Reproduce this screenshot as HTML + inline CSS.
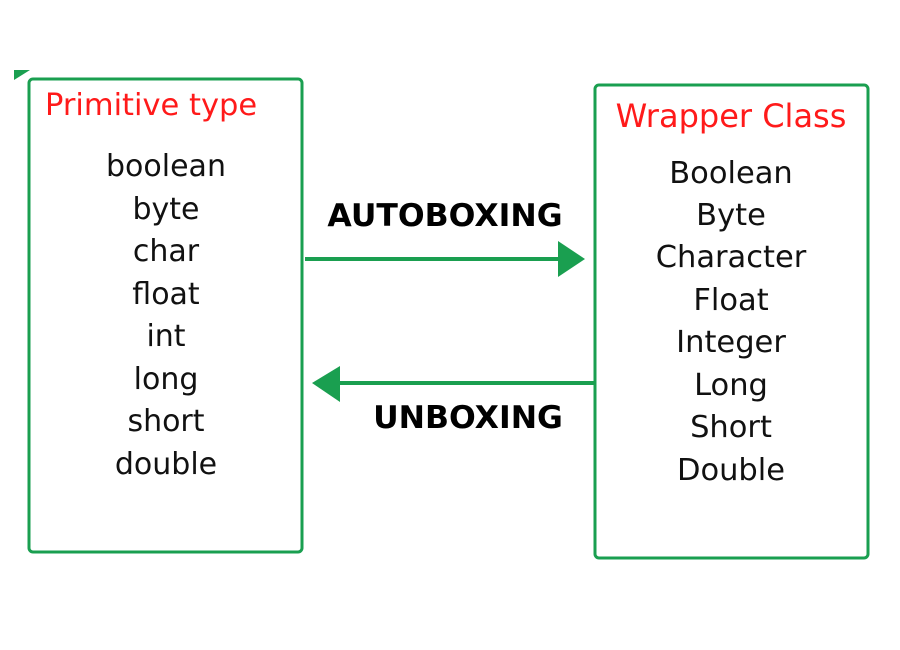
<!DOCTYPE html>
<html><head><meta charset="utf-8"><style>
html,body{margin:0;padding:0;background:#fff;width:900px;height:650px;overflow:hidden}
text{font-family:"DejaVu Sans","Liberation Sans",sans-serif}
</style></head><body>
<svg width="900" height="650" viewBox="0 0 900 650" xmlns="http://www.w3.org/2000/svg">
<polygon points="14,70 30,70 14,80" fill="#1a9f50"/>
<rect x="29" y="79" width="273" height="473" rx="4" fill="none" stroke="#1a9f50" stroke-width="3"/>
<rect x="595" y="85" width="273" height="473" rx="4" fill="none" stroke="#1a9f50" stroke-width="3"/>
<text x="45" y="115" font-size="30.5" fill="#ff1a1a">Primitive type</text>
<text x="731" y="127" font-size="32" fill="#ff1a1a" text-anchor="middle">Wrapper Class</text>
<g font-size="30" fill="#111" text-anchor="middle">
<text x="166" y="176">boolean</text>
<text x="166" y="219">byte</text>
<text x="166" y="261">char</text>
<text x="166" y="304">float</text>
<text x="166" y="346">int</text>
<text x="166" y="389">long</text>
<text x="166" y="431">short</text>
<text x="166" y="474">double</text>
</g>
<g font-size="30.5" fill="#111" text-anchor="middle">
<text x="731" y="183">Boolean</text>
<text x="731" y="225">Byte</text>
<text x="731" y="267">Character</text>
<text x="731" y="310">Float</text>
<text x="731" y="352">Integer</text>
<text x="731" y="395">Long</text>
<text x="731" y="437">Short</text>
<text x="731" y="480">Double</text>
</g>
<text x="445" y="226" font-size="31.5" font-weight="bold" fill="#000" text-anchor="middle">AUTOBOXING</text>
<text x="468" y="428" font-size="31.5" font-weight="bold" fill="#000" text-anchor="middle">UNBOXING</text>
<line x1="305" y1="259" x2="562" y2="259" stroke="#1a9f50" stroke-width="4"/>
<polygon points="558,241 585,259 558,277" fill="#1a9f50"/>
<line x1="594" y1="383" x2="338" y2="383" stroke="#1a9f50" stroke-width="4"/>
<polygon points="340,366 312,383 340,402" fill="#1a9f50"/>
</svg>
</body></html>
